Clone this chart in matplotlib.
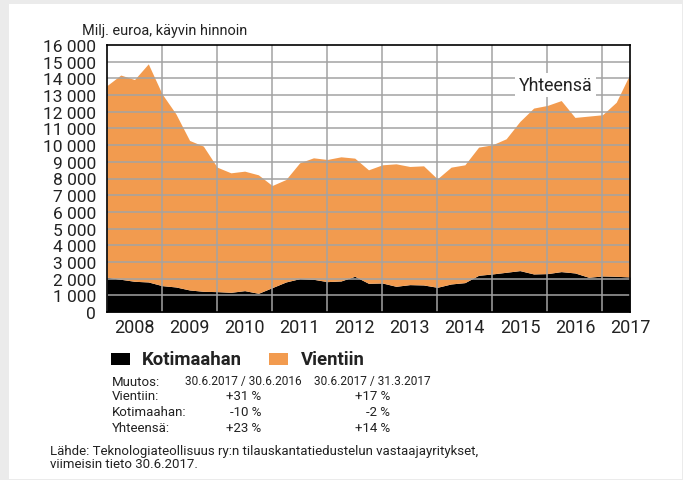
import matplotlib
matplotlib.use("Agg")
import matplotlib.pyplot as plt
from matplotlib import font_manager
from matplotlib.patches import Rectangle
import numpy as np

avail = {f.name for f in font_manager.fontManager.ttflist}
def pick(*names):
    for n in names:
        if n in avail:
            return n
    return "DejaVu Sans"
FONT = pick("Roboto", "Liberation Sans", "DejaVu Sans")
plt.rcParams['font.family'] = [FONT, 'DejaVu Sans']

# ---- data (quarterly, Q4/2007 ... Q2/2017), million euro ----
kotimaahan = [2080, 1960, 1840, 1800, 1580, 1500, 1320, 1240, 1220, 1180,
              1280, 1120, 1460, 1800, 2000, 1960, 1820, 1860, 2140, 1720,
              1740, 1540, 1640, 1620, 1480, 1680, 1760, 2200, 2280, 2380,
              2480, 2280, 2300, 2420, 2340, 2080, 2160, 2140, 2100]
yhteensa = [13570, 14200, 13930, 14870, 13070, 11880, 10280, 9940, 8680, 8340,
            8440, 8220, 7580, 7940, 8940, 9240, 9140, 9300, 9220, 8520,
            8820, 8880, 8720, 8760, 7980, 8680, 8820, 9880, 10020, 10380,
            11420, 12220, 12380, 12670, 11660, 11740, 11820, 12570, 14270]
years = ["2008", "2009", "2010", "2011", "2012", "2013", "2014", "2015", "2016", "2017"]
yticks = list(range(0, 16001, 1000))
ytick_labels = ["0"] + [f"{v//1000} 000" for v in yticks[1:]]

series_names = ["Kotimaahan", "Vientiin"]
table_header = ["Muutos:", "30.6.2017 / 30.6.2016", "30.6.2017 / 31.3.2017"]
table_rows = [["Vientiin:", "+31 %", "+17 %"],
              ["Kotimaahan:", "-10 %", "-2 %"],
              ["Yhteensä:", "+23 %", "+14 %"]]

ORANGE = "#F29B4F"
GRID = "#a3a3a3"
TXT = "#222222"

W, H = 683, 481
fig = plt.figure(figsize=(W / 100, H / 100), dpi=100)
fig.patch.set_facecolor("#ebebeb")
fig.patches.append(Rectangle((9 / W, 1 - 480 / H), (682 - 9) / W, (480 - 5) / H,
                             transform=fig.transFigure, facecolor="white",
                             edgecolor="none", zorder=-5))
renderer = fig.canvas.get_renderer()

def fit(t, target_px):
    w = t.get_window_extent(renderer=renderer).width
    t.set_fontsize(t.get_fontsize() * target_px / w)

ax = fig.add_axes([107 / W, 1 - 313 / H, (630 - 107) / W, (313 - 46) / H])
ax.set_zorder(2)
ax.patch.set_alpha(0)
x = np.arange(len(yhteensa))
ax.fill_between(x, 0, kotimaahan, color="black", linewidth=0, zorder=1)
ax.fill_between(x, kotimaahan, yhteensa, color=ORANGE, linewidth=0, zorder=1)
ax.set_xlim(0, len(yhteensa) - 1)
ax.set_ylim(0, 16000)

for gx in range(4, len(yhteensa) - 1, 4):
    ax.axvline(gx, color=GRID, lw=1.1, zorder=2)
for gy in yticks[1:-1]:
    ax.axhline(gy, color=GRID, lw=1.1, zorder=2)

ax.set_yticks(yticks)
ax.set_yticklabels(ytick_labels, fontsize=12.5, color=TXT)
xpos = [2 + 4 * i for i in range(len(years) - 1)] + [len(yhteensa) - 1]
ax.set_xticks(xpos)
ax.set_xticklabels(years, fontsize=13, color=TXT)
ax.tick_params(length=0, pad=4)
ax.tick_params(axis='y', pad=8)
for s in ax.spines.values():
    s.set_linewidth(1.2)
    s.set_color("black")
    s.set_zorder(5)

yt = ax.text(32.6, 13600, "Yhteensä", ha="center", va="center", fontsize=13.5, color=TXT,
             zorder=4, bbox=dict(facecolor="white", edgecolor="none", pad=2.5))
fit(yt, 74)

tt = fig.text(82 / W, 1 - 31 / H, "Milj. euroa, käyvin hinnoin", fontsize=12,
              color=TXT, va="center", ha="left")
fit(tt, 165)

# legend
fig.patches.append(Rectangle((111 / W, 1 - 366 / H), 19 / W, 12 / H, transform=fig.transFigure,
                             facecolor="black", edgecolor="none", zorder=3))
l1 = fig.text(142 / W, 1 - 360 / H, series_names[0], fontsize=13, fontweight="bold",
              color=TXT, va="center", ha="left")
fit(l1, 100)
fig.patches.append(Rectangle((269 / W, 1 - 366 / H), 19 / W, 12 / H, transform=fig.transFigure,
                             facecolor=ORANGE, edgecolor="none", zorder=3))
l2 = fig.text(301 / W, 1 - 360 / H, series_names[1], fontsize=13, fontweight="bold",
              color=TXT, va="center", ha="left")
fit(l2, 64)

# table
row_y = [382, 397, 413, 429]
fs = 9.5
fsd = 8.7
fig.text(112 / W, 1 - row_y[0] / H, table_header[0], fontsize=fs, color=TXT, va="center")
h1 = fig.text(243.5 / W, 1 - row_y[0] / H, table_header[1], fontsize=fsd, color=TXT, va="center", ha="center")
h2 = fig.text(372.5 / W, 1 - row_y[0] / H, table_header[2], fontsize=fsd, color=TXT, va="center", ha="center")
fit(h1, 117)
fit(h2, 117)
for r, row in enumerate(table_rows):
    yy = 1 - row_y[r + 1] / H
    fig.text(112 / W, yy, row[0], fontsize=fs, color=TXT, va="center")
    fig.text(261 / W, yy, row[1], fontsize=fs, color=TXT, va="center", ha="right")
    fig.text(390 / W, yy, row[2], fontsize=fs, color=TXT, va="center", ha="right")

s1 = fig.text(50 / W, 1 - 452 / H,
              "Lähde: Teknologiateollisuus ry:n tilauskantatiedustelun vastaajayritykset,",
              fontsize=fs, color=TXT, va="center")
fit(s1, 430)
fig.text(50 / W, 1 - 465 / H, "viimeisin tieto 30.6.2017.", fontsize=s1.get_fontsize(),
         color=TXT, va="center")

fig.savefig("out.png", dpi=100, facecolor=fig.get_facecolor())
